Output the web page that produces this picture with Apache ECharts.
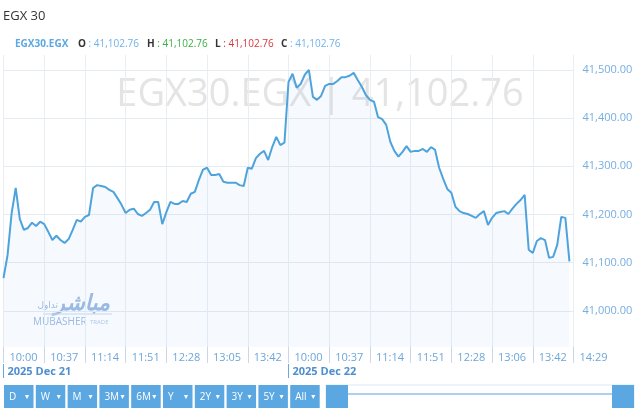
<!DOCTYPE html>
<html>
<head>
<meta charset="utf-8">
<script src="https://cdn.jsdelivr.net/npm/echarts@6/dist/echarts.min.js"></script>
<style>
html,body{margin:0;padding:0;background:#fff;}
#chart{width:640px;height:408px;}
</style>
</head>
<body>
<div id="chart"></div>
<script>
// ---- data ----
const tickLabels = ['10:00','10:37','11:14','11:51','12:28','13:05','13:42','10:00','10:37','11:14','11:51','12:28','13:06','13:42','14:29'];
const dateLabels = ['2025 Dec 21', '2025 Dec 22'];
const dateTickIndex = [0, 7];
const pointsPerTick = 10;
const closeValues = [
41068,41116,41203,41255,41191,41168,41172,41183,41176,41185,
41180,41164,41147,41156,41147,41141,41149,41168,41189,41185,
41195,41199,41255,41261,41259,41257,41251,41247,41234,41220,
41203,41210,41212,41201,41197,41203,41210,41226,41226,41180,
41205,41226,41222,41222,41228,41226,41243,41247,41272,41293,
41297,41282,41282,41284,41268,41266,41266,41266,41261,41259,
41297,41295,41317,41326,41332,41313,41340,41361,41344,41349,
41475,41492,41463,41471,41490,41500,41444,41438,41446,41467,
41471,41471,41477,41485,41485,41488,41494,41479,41465,41448,
41438,41434,41402,41398,41386,41351,41332,41320,41330,41342,
41330,41332,41332,41336,41330,41340,41334,41297,41274,41253,
41245,41216,41207,41203,41201,41197,41193,41201,41207,41178,
41193,41203,41205,41207,41201,41212,41222,41230,41241,41127,
41120,41145,41151,41147,41110,41112,41137,41195,41193,41102.76
];
const yTicks = [41000, 41100, 41200, 41300, 41400, 41500];
const yRange = [40925, 41531];
const symbolName = 'EGX30.EGX';
const lastValue = 41102.76;
const ohlcKeys = ['O', 'H', 'L', 'C'];
const ohlcValues = [41102.76, 41102.76, 41102.76, 41102.76];
const rangeButtons = ['D','W','M','3M','6M','Y','2Y','3Y','5Y','All'];

// ---- build ----
const nCats = (tickLabels.length - 1) * pointsPerTick + 1;
const categories = [];
for (let i = 0; i < nCats; i++) categories.push(i % pointsPerTick === 0 ? tickLabels[i / pointsPerTick] : '');
const fmt = v => v.toLocaleString('en-US', {minimumFractionDigits: 2, maximumFractionDigits: 2});
const isTick = i => i % pointsPerTick === 0;
const dateIdx = dateTickIndex.map(t => t * pointsPerTick);
const isDate = i => dateIdx.indexOf(i) >= 0;

const chart = echarts.init(document.getElementById('chart'), null, {renderer: 'canvas'});
const FONT = '"Open Sans", "Noto Sans", sans-serif';
const blue = '#5aa7e2';

const ohlcColors = ['#6fb2e8', '#3cb043', '#d9363e', '#6fb2e8'];
const ohlcX = [78, 147, 215, 281];

const graphics = [
  {type: 'text', left: 3, top: 10, z: 10, style: {text: 'EGX 30', font: '13px ' + FONT, fill: '#333'}},
  {type: 'text', x: 15, y: 44, z: 10, style: {text: symbolName, font: 'bold 10px ' + FONT, fill: '#5ba8e2', verticalAlign: 'middle'}},
  {type: 'text', x: 320, y: 95, z: 0, style: {text: symbolName + ' | ' + fmt(lastValue), font: '38px ' + FONT, fill: '#e4e4e4', align: 'center', verticalAlign: 'middle'}},
  {type: 'text', x: 110, y: 304, z: 0, style: {text: 'مباشر', font: 'bold italic 22px "DejaVu Sans"', fill: '#9dbbe3', align: 'right', verticalAlign: 'middle'}},
  {type: 'text', x: 58, y: 306, z: 0, style: {text: 'تداول', font: '9px "DejaVu Sans"', fill: '#9dbbe3', align: 'right', verticalAlign: 'middle'}},
  {type: 'line', z: 0, shape: {x1: 43, y1: 314, x2: 112, y2: 314}, style: {stroke: '#c7d8ee', lineWidth: 1}},
  {type: 'text', x: 33, y: 322, z: 0, style: {text: 'MUBASHER', font: '10px ' + FONT, fill: '#9dbbe3', verticalAlign: 'middle'}},
  {type: 'text', x: 90, y: 322, z: 0, style: {text: 'TRADE', font: '6px ' + FONT, fill: '#b3c9e8', verticalAlign: 'middle'}}
];
ohlcKeys.forEach((k, j) => {
  graphics.push({type: 'text', x: ohlcX[j], y: 44, z: 10, style: {
    text: '{k|' + k + '}{v| : ' + fmt(ohlcValues[j]) + '}', verticalAlign: 'middle',
    rich: {
      k: {fontFamily: FONT, fontSize: 10, fontWeight: 'bold', fill: '#333'},
      v: {fontFamily: FONT, fontSize: 10, fill: ohlcColors[j]}
    }}});
});
rangeButtons.forEach((b, k) => {
  const x = 4 + k * 31.8;
  graphics.push({type: 'rect', z: 10, shape: {x: x, y: 385, width: 29.5, height: 24}, style: {fill: blue}});
  graphics.push({type: 'text', z: 11, x: x + 5, y: 397, style: {text: b, font: '10px ' + FONT, fill: '#fff', verticalAlign: 'middle'}});
  graphics.push({type: 'text', z: 11, x: x + 21, y: 397, style: {text: '▾', font: '8px "DejaVu Sans"', fill: '#fff', verticalAlign: 'middle'}});
});
graphics.push({type: 'rect', z: 10, shape: {x: 326, y: 385, width: 308, height: 24}, style: {fill: '#fff', stroke: '#dbe9f6', lineWidth: 1}});
graphics.push({type: 'line', z: 11, shape: {x1: 348, y1: 394, x2: 612, y2: 394}, style: {stroke: '#a9d1f2', lineWidth: 2}});
graphics.push({type: 'rect', z: 12, shape: {x: 326, y: 385, width: 22, height: 24}, style: {fill: blue}});
graphics.push({type: 'rect', z: 12, shape: {x: 612, y: 385, width: 22, height: 24}, style: {fill: blue}});

const option = {
  animation: false,
  backgroundColor: '#fff',
  grid: {left: 3.5, right: 66.5, top: 55, bottom: 61, containLabel: false},
  xAxis: [{
    type: 'category', data: categories, boundaryGap: false,
    axisLine: {show: false},
    axisTick: {show: true, interval: i => isTick(i), length: 16, lineStyle: {color: '#ccd6eb'}},
    axisLabel: {interval: i => isTick(i), align: 'left', padding: [0, 0, 0, 6], margin: 5,
      color: '#6ea6d9', fontSize: 11, fontFamily: FONT},
    splitLine: {show: true, interval: i => isTick(i), lineStyle: {color: '#e8eef4', width: 1}}
  }, {
    type: 'category', data: categories, boundaryGap: false, position: 'bottom', offset: 17,
    axisLine: {show: false},
    axisTick: {show: true, interval: i => isDate(i), length: 14, lineStyle: {color: '#6aa9de'}},
    axisLabel: {interval: i => isDate(i), align: 'left', padding: [0, 0, 0, 4], margin: 2,
      formatter: (v, i) => { const k = dateIdx.indexOf(i); return k >= 0 ? dateLabels[k] : ''; },
      color: '#4d8fd0', fontSize: 11, fontWeight: 'bold', fontFamily: FONT},
    splitLine: {show: false}
  }],
  yAxis: {
    type: 'value', position: 'right', min: yRange[0], max: yRange[1], scale: true,
    axisLine: {show: false},
    axisTick: {show: false, customValues: yTicks},
    axisLabel: {customValues: yTicks, formatter: v => fmt(v), color: '#76aedf', fontSize: 11, fontFamily: FONT, margin: 9},
    splitLine: {show: true, lineStyle: {color: '#e6ebf1'}}
  },
  series: [{
    type: 'line', data: closeValues, xAxisIndex: 0, showSymbol: false, symbol: 'none',
    lineStyle: {color: '#4fa3dc', width: 2},
    areaStyle: {color: 'rgba(124,181,236,0.1)', origin: 'start'},
    z: 5
  }],
  graphic: graphics
};
chart.setOption(option);
</script>
</body>
</html>
